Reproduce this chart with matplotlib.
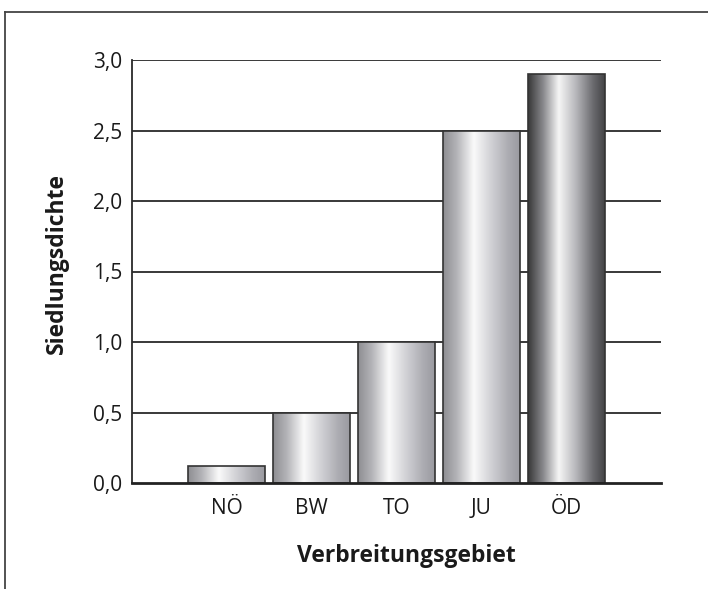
import numpy as np
import matplotlib
matplotlib.use("Agg")
import matplotlib.pyplot as plt
from matplotlib.colors import LinearSegmentedColormap
from matplotlib.lines import Line2D

# Data
categories = ["NÖ", "BW", "TO", "JU", "ÖD"]
values = [0.12, 0.5, 1.0, 2.5, 2.9]
dark_bar = [False, False, False, False, True]
y_ticks = [0.0, 0.5, 1.0, 1.5, 2.0, 2.5, 3.0]
y_tick_labels = ["0,0", "0,5", "1,0", "1,5", "2,0", "2,5", "3,0"]

plt.rcParams["font.family"] = ["Open Sans", "DejaVu Sans"]

W, H = 708, 589
fig = plt.figure(figsize=(W / 100, H / 100), dpi=100)
ax = fig.add_axes([132 / W, 1 - 483 / H, (661 - 132) / W, (483 - 60) / H])

# Metallic cylinder shading for the bars
light_cmap = LinearSegmentedColormap.from_list(
    "light_metal",
    [(0.0, "#8e8e92"), (0.18, "#b4b4b8"), (0.40, "#fafafa"),
     (0.62, "#d2d2d6"), (0.85, "#acacb2"), (1.0, "#9a9aa0")])
dark_cmap = LinearSegmentedColormap.from_list(
    "dark_metal",
    [(0.0, "#383838"), (0.2, "#8a8a8e"), (0.40, "#f6f6f6"),
     (0.62, "#b8b8bc"), (0.85, "#6a6a6e"), (1.0, "#444446")])

x = np.arange(len(categories))
width = 0.9
grad = np.linspace(0, 1, 256).reshape(1, -1)

ax.set_xlim(-1.11, 5.11)
ax.set_ylim(0, 3.0)

bars = ax.bar(x, values, width=width, color="none", edgecolor="#333333",
              linewidth=1.2, zorder=3)
for rect, dark in zip(bars, dark_bar):
    x0, y0 = rect.get_x(), rect.get_y()
    w, h = rect.get_width(), rect.get_height()
    im = ax.imshow(grad, cmap=dark_cmap if dark else light_cmap,
                   extent=(x0, x0 + w, y0, y0 + h), aspect="auto",
                   interpolation="bicubic", zorder=2)
    im.set_clip_path(rect)
ax.set_aspect("auto")

# Horizontal reference lines
for yv in y_ticks[1:]:
    ax.axhline(yv, color="#2a2a2a", linewidth=1.3, zorder=1)

for side in ["top", "right"]:
    ax.spines[side].set_visible(False)
ax.spines["left"].set_color("#2a2a2a")
ax.spines["left"].set_linewidth(1.3)
ax.spines["bottom"].set_color("#222222")
ax.spines["bottom"].set_linewidth(2.0)
ax.spines["bottom"].set_zorder(4)

ax.set_yticks(y_ticks)
ax.set_yticklabels(y_tick_labels, fontsize=15, color="#1a1a1a")
ax.set_xticks(x)
ax.set_xticklabels(categories, fontsize=15, color="#1a1a1a")
ax.tick_params(axis="y", length=0, pad=7)
ax.tick_params(axis="x", length=0, pad=11)

fig.text(57 / W, 1 - 264 / H, "Siedlungsdichte", rotation=90,
         ha="center", va="center", fontsize=16.5, fontweight="bold",
         color="#1a1a1a")
fig.text(406 / W, 1 - 556 / H, "Verbreitungsgebiet", ha="center",
         va="center", fontsize=16.5, fontweight="bold", color="#1a1a1a")

# Frame lines along the top and left edge
fig.add_artist(Line2D([5 / W, 1.0], [1 - 12 / H, 1 - 12 / H],
                      transform=fig.transFigure, color="#444444", linewidth=1.3))
fig.add_artist(Line2D([5 / W, 5 / W], [0.0, 1 - 12 / H],
                      transform=fig.transFigure, color="#444444", linewidth=1.3))

fig.savefig("out.png", dpi=100)
